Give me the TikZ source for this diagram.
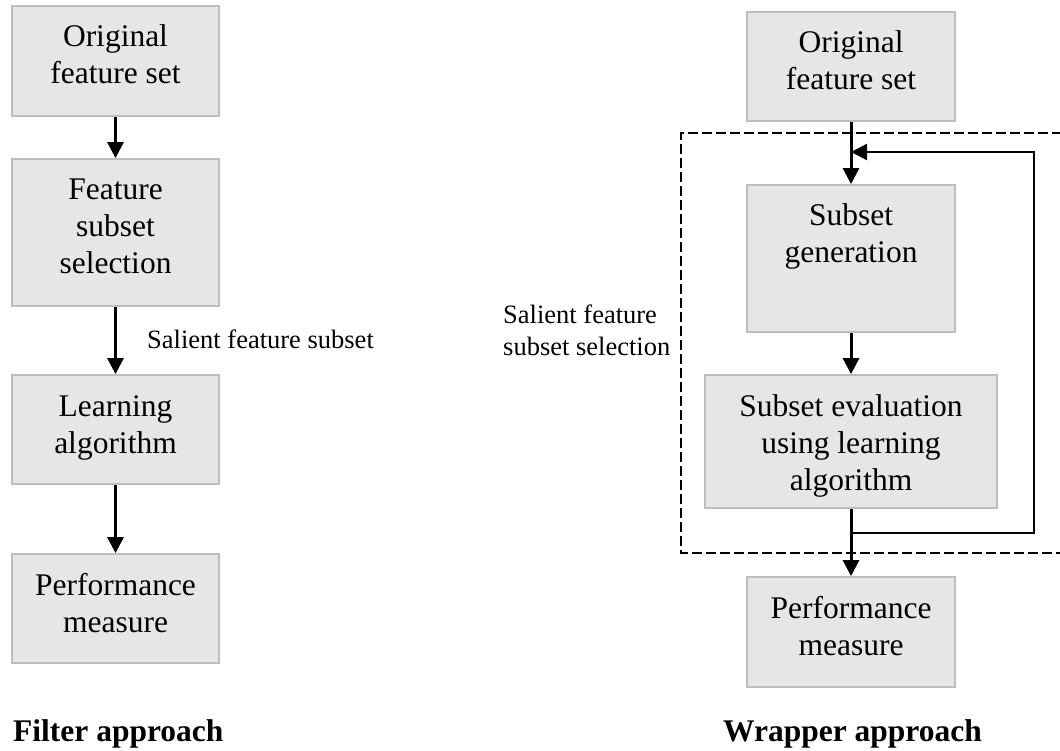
\documentclass[tikz,border=0pt]{standalone}
\usepackage{fontspec}
\setmainfont{Liberation Serif}
\usetikzlibrary{arrows.meta}
\definecolor{boxfill}{HTML}{E6E6E6}
\definecolor{boxline}{HTML}{BDBDBD}
\tikzset{
  stepbox/.style={draw=boxline, fill=boxfill, line width=1.8pt, inner xsep=0pt, inner ysep=0pt,
    align=center, font=\fontsize{31.5}{37}\selectfont},
  arr/.style={line width=3pt, -{Triangle[width=16pt,length=16pt]}},
  fbline/.style={line width=2.4pt, -{Triangle[width=16pt,length=16pt]}},
  dashbox/.style={line width=2.8pt, dash pattern=on 10pt off 4pt},
  captext/.style={font=\fontsize{31.5}{37}\selectfont\bfseries, inner sep=0pt, anchor=base west},
  lbl/.style={font=\fontsize{26.5}{32}\selectfont, inner sep=0pt}
}
\newcommand{\ftop}{\rule{0pt}{41pt}}
\newcommand{\fbot}[1]{\rule[-#1pt]{0pt}{0pt}}
\begin{document}
\begin{tikzpicture}[x=1pt,y=-1pt]
\useasboundingbox (0,0) rectangle (1060,751);
% Filter approach
\node[stepbox, minimum width=207pt, minimum height=110pt] (L1) at (115.5,61) {\ftop Original\\feature set\fbot{32}};
\node[stepbox, minimum width=207pt, minimum height=147pt] (L2) at (115.5,232.5) {\ftop Feature\\subset\\selection\fbot{32}};
\node[stepbox, minimum width=207pt, minimum height=109pt] (L3) at (115.5,429.5) {\ftop Learning\\algorithm\fbot{31}};
\node[stepbox, minimum width=207pt, minimum height=109pt] (L4) at (115.5,608.5) {\ftop Performance\\measure\fbot{31}};
\draw[arr] (L1.south) -- (L2.north);
\draw[arr] (L2.south) -- (L3.north);
\draw[arr] (L3.south) -- (L4.north);
\node[lbl, anchor=base west] (sfs) at (147,348) {Salient feature subset};
\node[captext] (capF) at (13,741) {Filter approach};
% Wrapper approach
\draw[dashbox] (1062,133) -- (681,133) -- (681,553) -- (1062,553);
\node[stepbox, minimum width=208pt, minimum height=109pt] (R1) at (851,66.5) {\ftop Original\\feature set\fbot{31}};
\node[stepbox, minimum width=208pt, minimum height=147pt] (R2) at (851,258.5) {\ftop Subset\\generation\fbot{69}};
\node[stepbox, minimum width=292pt, minimum height=133pt] (R3) at (851,441.5) {\ftop Subset evaluation\\using learning\\algorithm\fbot{18}};
\node[stepbox, minimum width=208pt, minimum height=110pt] (R4) at (851,632) {\ftop Performance\\measure\fbot{32}};
\coordinate (fbBot) at (1034,533);
\coordinate (fbTop) at (1034,152);
\draw[arr] (R1.south) -- (R2.north);
\draw[arr] (R2.south) -- (R3.north);
\draw[arr] (R3.south) -- (R4.north);
\draw[fbline] (R3.south |- fbBot) -- (fbBot) -- (fbTop) -- (R1.south |- fbTop);
\node[lbl, anchor=north west, align=left] (sfss) at (503,303) {\rule{0pt}{20pt}Salient feature\\subset selection};
\node[captext] (capW) at (723,741) {Wrapper approach};
\end{tikzpicture}
\end{document}
